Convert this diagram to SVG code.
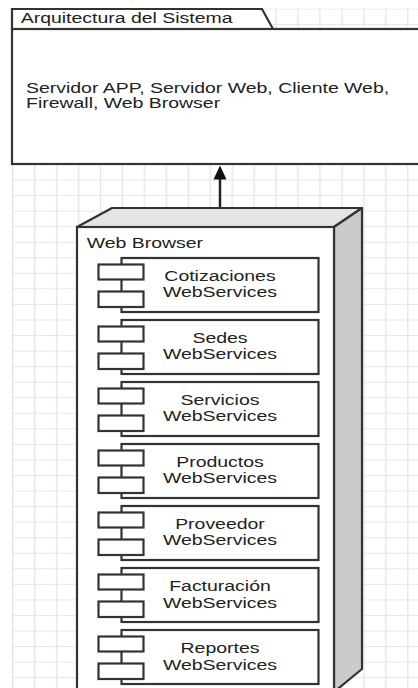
<svg xmlns="http://www.w3.org/2000/svg" width="418" height="688" viewBox="0 0 418 688">
<style>
.ln{stroke:#333;stroke-width:2.2;fill:#fff;}
.t{font-family:"Liberation Sans",Arial,sans-serif;font-size:14px;fill:#222;}
.c{text-anchor:middle;}
</style>
<defs>
<pattern id="grid" patternUnits="userSpaceOnUse" x="12" y="8.5" width="21.95" height="15.55">
<rect x="0" y="0" width="1.4" height="15.55" fill="#e6e6e6"/>
<rect x="0" y="0" width="21.95" height="1" fill="#e6e6e6"/>
</pattern>
<g id="comp">
<rect x="121.5" y="0" width="197" height="54" class="ln"/>
<rect x="98.5" y="6.5" width="45" height="15" class="ln"/>
<rect x="98.5" y="33.5" width="45" height="15.5" class="ln"/>
</g>
</defs>
<rect width="418" height="688" fill="#fff"/>
<rect x="12" y="8.5" width="406" height="680" fill="url(#grid)"/>

<g id="package">
<path d="M12,29 L12,9 L262,9 L273,29" class="ln"/>
<rect x="12" y="29" width="420" height="135" class="ln"/>
<text class="t" transform="translate(20.7,23) scale(1.39,1)">Arquitectura del Sistema</text>
<text class="t" transform="translate(26,93) scale(1.39,1)">Servidor APP, Servidor Web, Cliente Web,</text>
<text class="t" transform="translate(26,107.5) scale(1.39,1)">Firewall, Web Browser</text>
</g>

<g id="connectors">
<line x1="220" y1="208" x2="220" y2="178" stroke="#222" stroke-width="2.5"/>
<polygon points="220,165.5 213.5,179.5 226.5,179.5" fill="#111"/>
</g>

<g id="web-browser">
<polygon points="77,227 112,208 362,208 334,227" fill="#e4e4e4" stroke="#333" stroke-width="2.2" stroke-linejoin="round"/>
<polygon points="334,227 362,208 362,669 334,692" fill="#cbcbcb" stroke="#333" stroke-width="2.2" stroke-linejoin="round"/>
<rect x="77" y="227" width="257" height="470" class="ln"/>
<text class="t" transform="translate(86.7,247.5) scale(1.39,1)">Web Browser</text>
</g>

<g id="cotizaciones">
<use href="#comp" y="258"/>
<text class="t c" transform="translate(220,280.5) scale(1.39,1)">Cotizaciones</text>
<text class="t c" transform="translate(220,297) scale(1.39,1)">WebServices</text>
</g>
<g id="sedes">
<use href="#comp" y="320"/>
<text class="t c" transform="translate(220,342.5) scale(1.39,1)">Sedes</text>
<text class="t c" transform="translate(220,359) scale(1.39,1)">WebServices</text>
</g>
<g id="servicios">
<use href="#comp" y="382"/>
<text class="t c" transform="translate(220,404.5) scale(1.39,1)">Servicios</text>
<text class="t c" transform="translate(220,421) scale(1.39,1)">WebServices</text>
</g>
<g id="productos">
<use href="#comp" y="444"/>
<text class="t c" transform="translate(220,466.5) scale(1.39,1)">Productos</text>
<text class="t c" transform="translate(220,483) scale(1.39,1)">WebServices</text>
</g>
<g id="proveedor">
<use href="#comp" y="506"/>
<text class="t c" transform="translate(220,528.5) scale(1.39,1)">Proveedor</text>
<text class="t c" transform="translate(220,545) scale(1.39,1)">WebServices</text>
</g>
<g id="facturacion">
<use href="#comp" y="568"/>
<text class="t c" transform="translate(220,591) scale(1.39,1)">Facturación</text>
<text class="t c" transform="translate(220,607.5) scale(1.39,1)">WebServices</text>
</g>
<g id="reportes">
<use href="#comp" y="630"/>
<text class="t c" transform="translate(220,653) scale(1.39,1)">Reportes</text>
<text class="t c" transform="translate(220,669.5) scale(1.39,1)">WebServices</text>
</g>
</svg>
